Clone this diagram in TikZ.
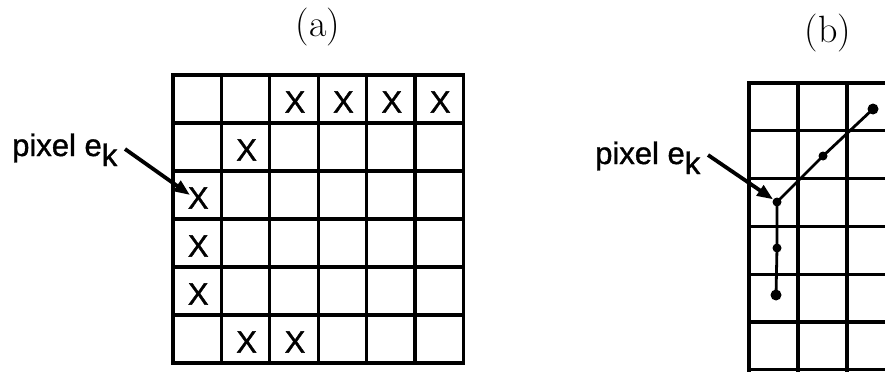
\documentclass[tikz,border=0pt]{standalone}
\usepackage{fontspec}
\setmainfont{Latin Modern Roman}
\newfontfamily\lblfont[FakeBold=1.2]{Liberation Sans}
\usetikzlibrary{arrows.meta}
\tikzset{
  gridline/.style={line width=3.2pt, line cap=rect},
  xmark/.style={font=\lblfont\fontsize{31}{34}\selectfont, inner sep=0pt},
  pixlabel/.style={font=\lblfont\fontsize{31}{34}\selectfont, inner sep=0pt, anchor=base west},
  pointer/.style={line width=3.8pt, -{Triangle[length=16pt,width=12pt]}},
  traj/.style={line width=2.8pt},
  bigdot/.style={circle, fill=black, inner sep=0pt, minimum size=11pt},
  smalldot/.style={circle, fill=black, inner sep=0pt, minimum size=9pt},
  caption/.style={font=\fontsize{38}{44}\selectfont, inner sep=0pt}
}
\newcommand{\pixlbl}{pixel e\raisebox{-10pt}{k}}
\begin{document}
\begin{tikzpicture}[x=1pt,y=-1pt]
\useasboundingbox (0,0) rectangle (885,372);
% ---------- (a) ----------
\node[caption] (capA) at (318,27) {(a)};
\foreach \i in {0,...,6} {
  \draw[gridline] ({173+48.4*\i},75) -- ({173+48.4*\i},363);
  \draw[gridline] (173,{75+48*\i}) -- (463.4,{75+48*\i});
}
% X marks: (col,row) 1-based
\foreach \c/\r in {3/1,4/1,5/1,6/1,2/2,1/3,1/4,1/5,2/6,3/6} {
  \node[xmark] (xa\c\r) at ({173+48.4*(\c-0.5)+1},{75+48*(\r-0.5)+3}) {X};
}
\node[pixlabel] (lblA) at (12,156) {\pixlbl};
\coordinate (aS) at (125,149);
\coordinate (aT) at (190,195);
\draw[pointer] (aS) -- (aT);
% ---------- (b) ----------
\node[caption] (capB) at (828,33) {(b)};
\foreach \i in {0,...,3} {
  \draw[gridline] ({749+49*\i},83) -- ({749+49*\i},370);
}
\foreach \i in {0,...,6} {
  \draw[gridline] (749,{83+47.8*\i}) -- (890,{83+47.8*\i});
}
\node[bigdot] (d1) at (873,109) {};
\node[smalldot] (d2) at (823,156) {};
\node[smalldot] (d3) at (777,202) {};
\node[smalldot] (d4) at (777,248) {};
\node[bigdot] (d5) at (776,295) {};
\draw[traj] (d1.center) -- (d2.center) -- (d3.center) -- (d4.center) -- (d5.center);
\node[pixlabel] (lblB) at (595,164) {\pixlbl};
\coordinate (bS) at (708,155);
\draw[pointer] (bS) -- (d3);
\end{tikzpicture}
\end{document}
